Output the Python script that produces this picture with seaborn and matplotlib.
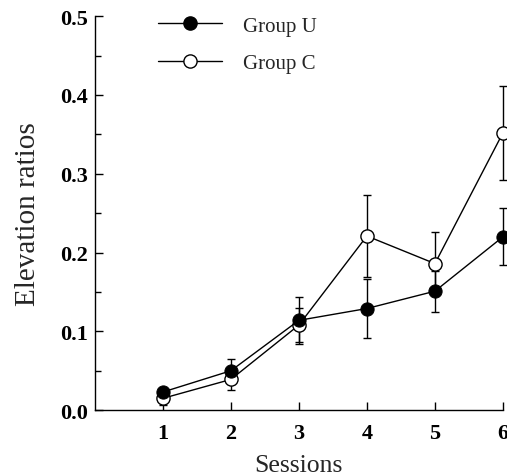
import matplotlib as mpl
import matplotlib.pyplot as plt
import matplotlib.ticker as mticker
from matplotlib.lines import Line2D
import seaborn as sns
import pandas as pd

#%% Data

sessions = [1, 2, 3, 4, 5, 6]
group_u = [0.023, 0.050, 0.114, 0.129, 0.151, 0.220]
group_u_err = [0.004, 0.015, 0.030, 0.037, 0.026, 0.036]
group_c = [0.015, 0.039, 0.108, 0.221, 0.186, 0.352]
group_c_err = [0.008, 0.014, 0.022, 0.052, 0.040, 0.060]

df = pd.DataFrame({'session': sessions * 2,
                   'ratio': group_u + group_c,
                   'group': ['Group U'] * 6 + ['Group C'] * 6})

#%% Plot

sns.set_style('ticks')
plt.rcParams['font.family'] = ['Liberation Serif', 'DejaVu Serif']

fig = plt.figure(figsize=(5.07, 4.77), dpi=100)
ax = fig.add_axes([0.187, 0.138, 0.805, 0.826])

ax.errorbar(sessions, group_c, yerr=group_c_err, fmt='none', ecolor='black',
            elinewidth=1, capsize=3, capthick=1, zorder=2, clip_on=False)
ax.errorbar(sessions, group_u, yerr=group_u_err, fmt='none', ecolor='black',
            elinewidth=1, capsize=3, capthick=1, zorder=2, clip_on=False)

sns.lineplot(data=df[df['group'] == 'Group C'], x='session', y='ratio', ax=ax,
             color='black', linewidth=1, marker='o', markersize=9.5,
             markerfacecolor='white', markeredgecolor='black', markeredgewidth=1,
             zorder=3, clip_on=False)
sns.lineplot(data=df[df['group'] == 'Group U'], x='session', y='ratio', ax=ax,
             color='black', linewidth=1, marker='o', markersize=9.5,
             markerfacecolor='black', markeredgecolor='black',
             zorder=4, clip_on=False)

ax.set_xlim(0, 6)
ax.set_ylim(0, 0.5)
ax.set_xticks(sessions)
ax.set_yticks([0.0, 0.1, 0.2, 0.3, 0.4, 0.5])
ax.yaxis.set_minor_locator(mticker.MultipleLocator(0.05))
ax.yaxis.set_major_formatter(mticker.StrMethodFormatter('{x:.1f}'))
ax.tick_params(axis='both', which='both', direction='in', width=1, colors='black')
ax.tick_params(axis='both', which='major', length=6, labelsize=16)
ax.tick_params(axis='x', which='major', pad=9)
ax.tick_params(axis='y', which='major', pad=5)
ax.tick_params(axis='y', which='minor', length=4)
for lab in ax.get_xticklabels() + ax.get_yticklabels():
    lab.set_fontweight('bold')

for side in ['top', 'right']:
    ax.spines[side].set_visible(False)
for side in ['left', 'bottom']:
    ax.spines[side].set_linewidth(1)
    ax.spines[side].set_color('black')

ax.set_xlabel('Sessions', fontsize=18.5, labelpad=8)
ax.set_ylabel('Elevation ratios', fontsize=21, labelpad=14)

handles = [Line2D([], [], color='black', lw=1, marker='o', markersize=9.5,
                  markerfacecolor='black', markeredgecolor='black'),
           Line2D([], [], color='black', lw=1, marker='o', markersize=9.5,
                  markerfacecolor='white', markeredgecolor='black')]
ax.legend(handles, ['Group U', 'Group C'], loc='upper left',
          bbox_to_anchor=(0.154, 1.0), frameon=False, fontsize=15,
          handlelength=3.1, handletextpad=1.0, labelspacing=0.85,
          borderpad=0, borderaxespad=0)

fig.savefig('out.png', dpi=100)
